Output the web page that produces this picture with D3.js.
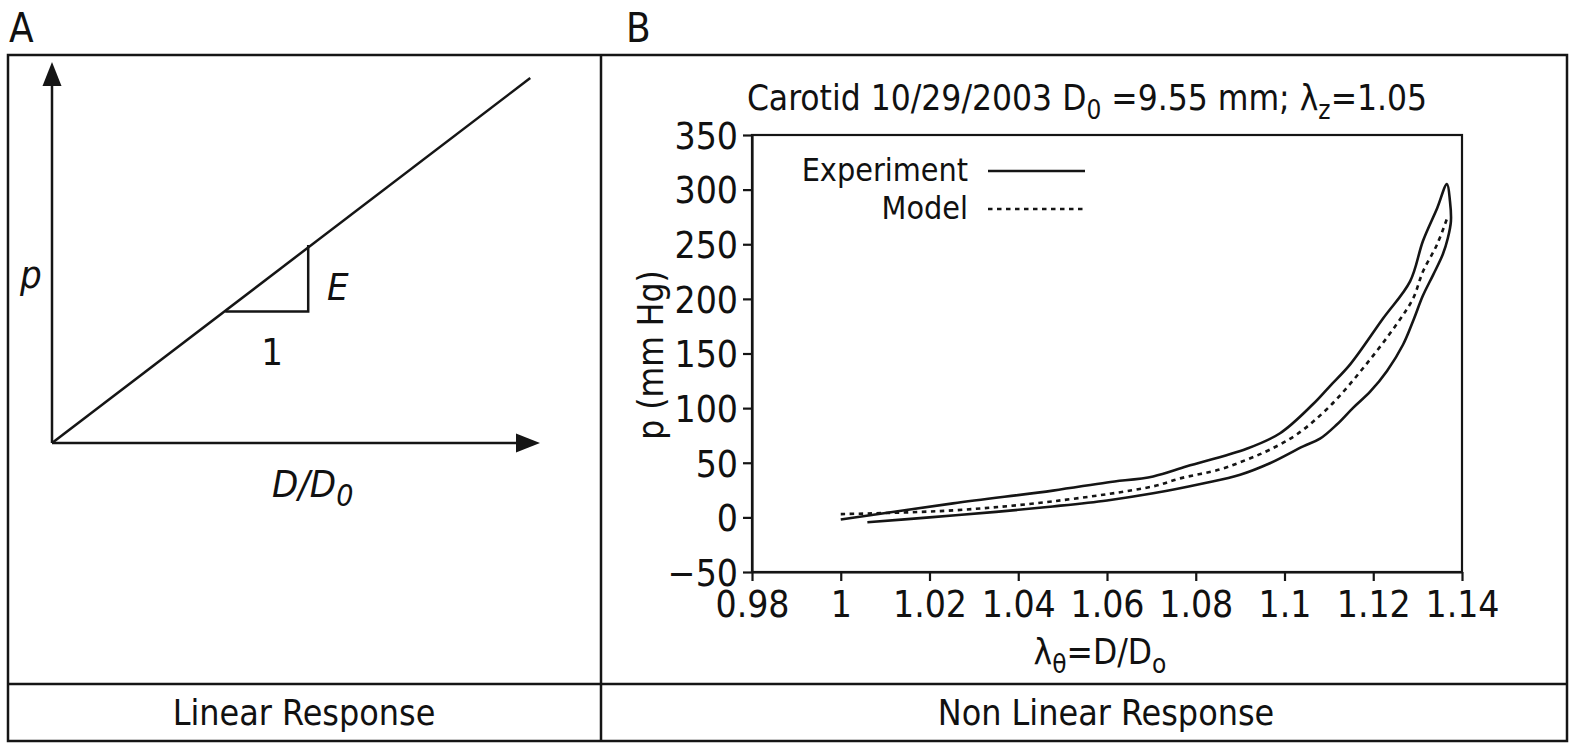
<!DOCTYPE html>
<html>
<head>
<meta charset="utf-8">
<script src="https://cdn.jsdelivr.net/npm/d3@7"></script>
<style>
  html, body { margin: 0; padding: 0; background: #fff; }
  svg text { font-family: "Liberation Sans Narrow", "DejaVu Sans Condensed", "DejaVu Sans", sans-serif; font-stretch: condensed; fill: #111; }
</style>
</head>
<body>
<svg id="stage"></svg>
<script>
/* ---------- data ---------- */

// panel B: experiment loop, lower branch then back along upper branch
const experiment = [
  [1.006, -4.5], [1.02, 0], [1.035, 5], [1.0478, 10], [1.06, 15.5],
  [1.0704, 22], [1.0816, 31], [1.09, 39], [1.0967, 49.5], [1.1042, 65],
  [1.108, 72], [1.1118, 85], [1.1154, 100], [1.1193, 115], [1.1231, 134],
  [1.1267, 158], [1.129, 180], [1.1312, 203], [1.1335, 222], [1.1357, 241],
  [1.1368, 255.5], [1.1375, 271], [1.1373, 289], [1.1366, 305],
  [1.1344, 283], [1.1312, 253], [1.1283, 216], [1.1222, 182], [1.1148, 140],
  [1.1102, 120], [1.1064, 103.5], [1.099, 77], [1.0916, 63], [1.078, 46.7],
  [1.0704, 37.5], [1.06, 32], [1.0478, 24.5], [1.0253, 12.8], [1.0, -2]
];

const model = [
  [1.0, 3], [1.0253, 6.4], [1.0478, 14.7], [1.0704, 28.4], [1.0765, 35.7],
  [1.0855, 44], [1.0916, 53], [1.0967, 62], [1.1028, 76], [1.1102, 101.7],
  [1.118, 138], [1.1253, 177], [1.129, 200.6], [1.1312, 225], [1.1344, 250],
  [1.1368, 275.6]
];

const x_ticks = [0.98, 1, 1.02, 1.04, 1.06, 1.08, 1.1, 1.12, 1.14];
const y_ticks = [-50, 0, 50, 100, 150, 200, 250, 300, 350];
const legend_names = ["Experiment", "Model"];
const bottom_labels = ["Linear Response", "Non Linear Response"];
const panel_names = ["A", "B"];

// panel A: schematic, unit axes
const linear_line = [[0, 0], [0.98, 0.958]];
const slope_triangle = [[0.355, 0.345], [0.525, 0.345], [0.525, 0.52]];

/* ---------- setup ---------- */

const width = 1575;
const height = 748;

const svg = d3.select("#stage")
  .attr("width", width)
  .attr("height", height);

const ink = "#151515";

// outer table frame
const frame = { left: 8, right: 1567, top: 55, mid_x: 601, mid_y: 684, bottom: 741 };

svg.append("rect")
  .attr("x", frame.left).attr("y", frame.top)
  .attr("width", frame.right - frame.left).attr("height", frame.bottom - frame.top)
  .attr("fill", "none").attr("stroke", ink).attr("stroke-width", 2.5);
svg.append("line")
  .attr("x1", frame.mid_x).attr("x2", frame.mid_x)
  .attr("y1", frame.top).attr("y2", frame.bottom)
  .attr("stroke", ink).attr("stroke-width", 2.5);
svg.append("line")
  .attr("x1", frame.left).attr("x2", frame.right)
  .attr("y1", frame.mid_y).attr("y2", frame.mid_y)
  .attr("stroke", ink).attr("stroke-width", 2.5);

svg.selectAll("text.panel")
  .data(panel_names)
  .join("text")
  .attr("class", "panel")
  .attr("x", (d, i) => i === 0 ? 9 : 626)
  .attr("y", 42)
  .attr("font-size", 40)
  .text(d => d);

svg.selectAll("text.bottom")
  .data(bottom_labels)
  .join("text")
  .attr("class", "bottom")
  .attr("x", (d, i) => i === 0 ? 304 : 1106)
  .attr("y", 725)
  .attr("text-anchor", "middle")
  .attr("font-size", 35.5)
  .text(d => d);

/* ---------- panel A ---------- */

const ax = d3.scaleLinear().domain([0, 1]).range([52, 540]);
const ay = d3.scaleLinear().domain([0, 1]).range([443, 62]);

const pa = svg.append("g");

function arrow_head(x, y, dir) {
  const L = 24, W = 9.5;
  const pts = dir === "up"
    ? [[x, y], [x - W, y + L], [x + W, y + L]]
    : [[x, y], [x - L, y - W], [x - L, y + W]];
  pa.append("path")
    .attr("d", d3.line()(pts) + "Z")
    .attr("fill", ink);
}

pa.append("line")
  .attr("x1", ax(0)).attr("y1", ay(0))
  .attr("x2", ax(0)).attr("y2", ay(1) + 20)
  .attr("stroke", ink).attr("stroke-width", 2.5);
arrow_head(ax(0), ay(1), "up");

pa.append("line")
  .attr("x1", ax(0)).attr("y1", ay(0))
  .attr("x2", ax(1) - 20).attr("y2", ay(0))
  .attr("stroke", ink).attr("stroke-width", 2.5);
arrow_head(ax(1), ay(0), "right");

const a_line = d3.line().x(d => ax(d[0])).y(d => ay(d[1]));

pa.append("path")
  .attr("d", a_line(linear_line))
  .attr("fill", "none").attr("stroke", ink).attr("stroke-width", 2.5);

pa.append("path")
  .attr("d", a_line(slope_triangle))
  .attr("fill", "none").attr("stroke", ink).attr("stroke-width", 2.5);

pa.append("text")
  .attr("x", 20).attr("y", 288)
  .attr("font-size", 38).attr("font-style", "italic")
  .text("p");

pa.append("text")
  .attr("x", 327).attr("y", 300)
  .attr("font-size", 38).attr("font-style", "italic")
  .text("E");

pa.append("text")
  .attr("x", 272).attr("y", 365)
  .attr("text-anchor", "middle")
  .attr("font-size", 38)
  .text("1");

const dd0 = pa.append("text")
  .attr("x", 272).attr("y", 497)
  .attr("font-size", 38).attr("font-style", "italic");
dd0.append("tspan").text("D/D");
dd0.append("tspan").attr("dy", 9).attr("font-size", 30).text("0");

/* ---------- panel B ---------- */

const x = d3.scaleLinear().domain([0.98, 1.14]).range([752, 1462]);
const y = d3.scaleLinear().domain([-50, 350]).range([572, 135]);

const pb = svg.append("g");

// plot frame
pb.append("rect")
  .attr("x", x.range()[0]).attr("y", y.range()[1])
  .attr("width", x.range()[1] - x.range()[0])
  .attr("height", y.range()[0] - y.range()[1])
  .attr("fill", "none").attr("stroke", ink).attr("stroke-width", 2.2);

const x_axis = pb.append("g")
  .attr("transform", `translate(0, ${y.range()[0]})`)
  .call(d3.axisBottom(x).tickValues(x_ticks).tickFormat(d3.format("")).tickSize(9).tickSizeOuter(0).tickPadding(10));

const y_axis = pb.append("g")
  .attr("transform", `translate(${x.range()[0]}, 0)`)
  .call(d3.axisLeft(y).tickValues(y_ticks).tickFormat(d => d < 0 ? "\u2212" + Math.abs(d) : d).tickSize(9).tickSizeOuter(0).tickPadding(5));

[x_axis, y_axis].forEach(a => {
  a.select(".domain").attr("stroke", ink).attr("stroke-width", 2.2);
  a.selectAll(".tick line").attr("stroke", ink).attr("stroke-width", 2.2);
  a.selectAll(".tick text")
    .attr("font-size", 37)
    .attr("fill", ink)
    .attr("font-family", null);
});
y_axis.selectAll(".tick text").attr("dy", "0.36em");

const b_line = d3.line()
  .x(d => x(d[0]))
  .y(d => y(d[1]))
  .curve(d3.curveCatmullRom.alpha(0.5));

pb.append("path")
  .attr("d", b_line(experiment))
  .attr("fill", "none").attr("stroke", ink).attr("stroke-width", 2.6)
  .attr("stroke-linejoin", "round");

pb.append("path")
  .attr("d", b_line(model))
  .attr("fill", "none").attr("stroke", ink).attr("stroke-width", 2.6)
  .attr("stroke-dasharray", "4.5,4.5");

// legend
const legend = pb.append("g");
legend.selectAll("text")
  .data(legend_names)
  .join("text")
  .attr("x", 968)
  .attr("y", (d, i) => 181 + i * 38)
  .attr("text-anchor", "end")
  .attr("font-size", 32)
  .text(d => d);
legend.selectAll("line")
  .data(legend_names)
  .join("line")
  .attr("x1", 988).attr("x2", 1085)
  .attr("y1", (d, i) => 171 + i * 38)
  .attr("y2", (d, i) => 171 + i * 38)
  .attr("stroke", ink).attr("stroke-width", 2.6)
  .attr("stroke-dasharray", (d, i) => i === 0 ? null : "4.5,4.5");

// title
const title = pb.append("text")
  .attr("x", 1087).attr("y", 110)
  .attr("text-anchor", "middle")
  .attr("font-size", 35);
title.append("tspan").text("Carotid 10/29/2003 D");
title.append("tspan").attr("dy", 9).attr("font-size", 26).text("0");
title.append("tspan").attr("dy", -9).text(" =9.55 mm; \u03bb");
title.append("tspan").attr("dy", 9).attr("font-size", 26).text("z");
title.append("tspan").attr("dy", -9).text("=1.05");

// axis titles
const x_title = pb.append("text")
  .attr("x", 1100).attr("y", 664)
  .attr("text-anchor", "middle")
  .attr("font-size", 35);
x_title.append("tspan").text("\u03bb");
x_title.append("tspan").attr("dy", 9).attr("font-size", 26).text("\u03b8");
x_title.append("tspan").attr("dy", -9).text("=D/D");
x_title.append("tspan").attr("dy", 9).attr("font-size", 26).text("o");

pb.append("text")
  .attr("transform", `translate(663, 355) rotate(-90)`)
  .attr("text-anchor", "middle")
  .attr("font-size", 35)
  .text("p (mm Hg)");
</script>
</body>
</html>
